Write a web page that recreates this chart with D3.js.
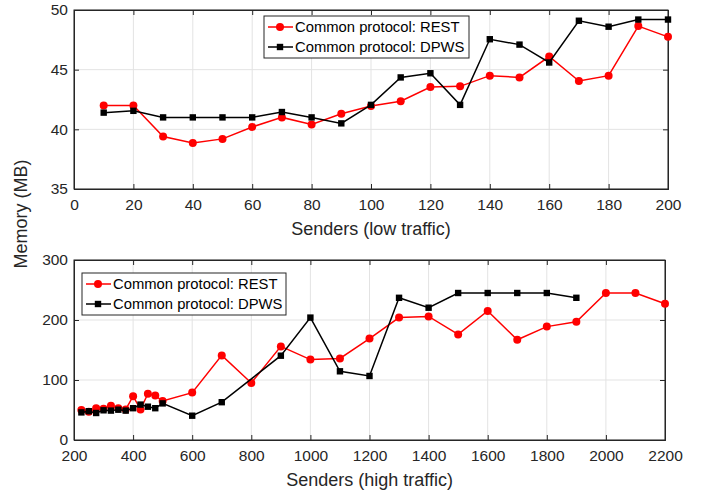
<!DOCTYPE html>
<html>
<head>
<meta charset="utf-8">
<script src="https://cdn.jsdelivr.net/npm/d3@7"></script>
<style>
  body { margin: 0; background: #fff; }
  svg { font-family: "Liberation Sans", Arial, sans-serif; }
  .tick text { fill: #262626; font-size: 15.5px; }
  .axis-label { fill: #262626; font-size: 18px; text-anchor: middle; }
  .legend text { fill: #000; font-size: 14.8px; }
</style>
</head>
<body>
<div id="chart"></div>
<script>
// low traffic panel
const lowSenders = [10, 20, 30, 40, 50, 60, 70, 80, 90, 100, 110, 120, 130, 140, 150, 160, 170, 180, 190, 200];
const lowRest = [42.0, 42.0, 39.4, 38.85, 39.2, 40.2, 41.0, 40.4, 41.3, 41.95, 42.35, 43.55, 43.6, 44.5, 44.35, 46.1, 44.05, 44.5, 48.65, 47.75];
const lowDpws = [41.4, 41.55, 41.0, 41.0, 41.0, 41.0, 41.45, 41.0, 40.5, 42.05, 44.35, 44.7, 42.05, 47.55, 47.1, 45.6, 49.1, 48.6, 49.2, 49.2];

// high traffic panel
const highRestSenders = [225, 250, 275, 300, 325, 350, 375, 400, 425, 450, 475, 500, 600, 700, 800, 900, 1000, 1100, 1200, 1300, 1400, 1500, 1600, 1700, 1800, 1900, 2000, 2100, 2200];
const highRest = [50, 47, 53, 52, 57, 53, 51, 73, 51, 77, 74, 65, 79, 141, 95, 156, 134, 136, 169, 204, 206, 176, 215, 167, 189, 197, 245, 245, 227];
const highDpwsSenders = [225, 250, 275, 300, 325, 350, 375, 400, 425, 450, 475, 500, 600, 700, 900, 1000, 1100, 1200, 1300, 1400, 1500, 1600, 1700, 1800, 1900];
const highDpws = [46, 48, 45, 49.5, 49, 50.5, 49, 53, 59, 55.5, 53, 61, 40.5, 63, 140.5, 204, 114.5, 106.7, 237, 220.5, 245, 245, 245, 245, 237];

const lowXTicks = [0, 20, 40, 60, 80, 100, 120, 140, 160, 180, 200];
const lowYTicks = [35, 40, 45, 50];
const highXTicks = [200, 400, 600, 800, 1000, 1200, 1400, 1600, 1800, 2000, 2200];
const highYTicks = [0, 100, 200, 300];
const seriesNames = ["Common protocol: REST", "Common protocol: DPWS"];

const svg = d3.select("#chart").append("svg")
  .attr("width", 708).attr("height", 495);

function panel(opt) {
  const x = d3.scaleLinear().domain(opt.xDomain).range([opt.left, opt.right]);
  const y = d3.scaleLinear().domain(opt.yDomain).range([opt.bottom, opt.top]);
  const g = svg.append("g");

  // grid
  g.selectAll(".gx").data(opt.xTicks).enter().append("line")
    .attr("x1", d => x(d)).attr("x2", d => x(d))
    .attr("y1", opt.top).attr("y2", opt.bottom)
    .attr("stroke", "#e3e3e3").attr("stroke-width", 1);
  g.selectAll(".gy").data(opt.yTicks).enter().append("line")
    .attr("x1", opt.left).attr("x2", opt.right)
    .attr("y1", d => y(d)).attr("y2", d => y(d))
    .attr("stroke", "#e3e3e3").attr("stroke-width", 1);

  // axes, ticks pointing inward like matlab
  g.append("g").attr("transform", `translate(0,${opt.bottom})`)
    .call(d3.axisBottom(x).tickValues(opt.xTicks).tickFormat(d3.format("d")).tickSize(-5).tickPadding(10));
  g.append("g").attr("transform", `translate(${opt.left},0)`)
    .call(d3.axisLeft(y).tickValues(opt.yTicks).tickFormat(d3.format("d")).tickSize(-5).tickPadding(6));
  g.append("g").attr("transform", `translate(0,${opt.top})`)
    .call(d3.axisTop(x).tickValues(opt.xTicks).tickSize(-5).tickFormat(""));
  g.append("g").attr("transform", `translate(${opt.right},0)`)
    .call(d3.axisRight(y).tickValues(opt.yTicks).tickSize(-5).tickFormat(""));
  g.selectAll(".domain").attr("stroke", "#262626");
  g.selectAll(".tick line").attr("stroke", "#262626");

  g.append("rect")
    .attr("x", opt.left).attr("y", opt.top)
    .attr("width", opt.right - opt.left).attr("height", opt.bottom - opt.top)
    .attr("fill", "none").attr("stroke", "#262626").attr("stroke-width", 1);

  g.append("text").attr("class", "axis-label")
    .attr("x", (opt.left + opt.right) / 2).attr("y", opt.bottom + 46)
    .text(opt.xLabel);

  const line = d3.line().x(d => x(d[0])).y(d => y(d[1]));

  // REST
  const rest = opt.restX.map((v, i) => [v, opt.rest[i]]);
  g.append("path").datum(rest).attr("d", line)
    .attr("fill", "none").attr("stroke", "#ff0000").attr("stroke-width", 1.5);
  g.selectAll(".rc").data(rest).enter().append("circle")
    .attr("cx", d => x(d[0])).attr("cy", d => y(d[1])).attr("r", 4)
    .attr("fill", "#ff0000");

  // DPWS
  const dpws = opt.dpwsX.map((v, i) => [v, opt.dpws[i]]);
  g.append("path").datum(dpws).attr("d", line)
    .attr("fill", "none").attr("stroke", "#000").attr("stroke-width", 1.5);
  g.selectAll(".ds").data(dpws).enter().append("rect")
    .attr("x", d => x(d[0]) - 3.2).attr("y", d => y(d[1]) - 3.2)
    .attr("width", 6.4).attr("height", 6.4)
    .attr("fill", "#000");

  // legend
  const lg = g.append("g").attr("class", "legend")
    .attr("transform", `translate(${opt.legend[0]},${opt.legend[1]})`);
  lg.append("rect").attr("width", opt.legend[2]).attr("height", 42)
    .attr("fill", "#fff").attr("stroke", "#262626").attr("stroke-width", 1);
  seriesNames.forEach((name, i) => {
    const cy = 11 + i * 20;
    const col = i === 0 ? "#ff0000" : "#000";
    lg.append("line").attr("x1", 4).attr("x2", 29).attr("y1", cy).attr("y2", cy)
      .attr("stroke", col).attr("stroke-width", 1.5);
    if (i === 0) {
      lg.append("circle").attr("cx", 16).attr("cy", cy).attr("r", 4).attr("fill", col);
    } else {
      lg.append("rect").attr("x", 12.8).attr("y", cy - 3.2).attr("width", 6.4).attr("height", 6.4).attr("fill", col);
    }
    lg.append("text").attr("x", 31).attr("y", cy + 5).text(name);
  });
}

panel({
  left: 74, right: 668, top: 10, bottom: 189,
  xDomain: [0, 200], yDomain: [35, 50],
  xTicks: lowXTicks, yTicks: lowYTicks,
  restX: lowSenders, rest: lowRest, dpwsX: lowSenders, dpws: lowDpws,
  xLabel: "Senders (low traffic)",
  legend: [264, 16, 205]
});

panel({
  left: 74, right: 665, top: 260, bottom: 440,
  xDomain: [200, 2200], yDomain: [0, 300],
  xTicks: highXTicks, yTicks: highYTicks,
  restX: highRestSenders, rest: highRest, dpwsX: highDpwsSenders, dpws: highDpws,
  xLabel: "Senders (high traffic)",
  legend: [82, 273, 204]
});

svg.append("text").attr("class", "axis-label")
  .attr("transform", "translate(27,214) rotate(-90)")
  .text("Memory (MB)");
</script>
</body>
</html>
